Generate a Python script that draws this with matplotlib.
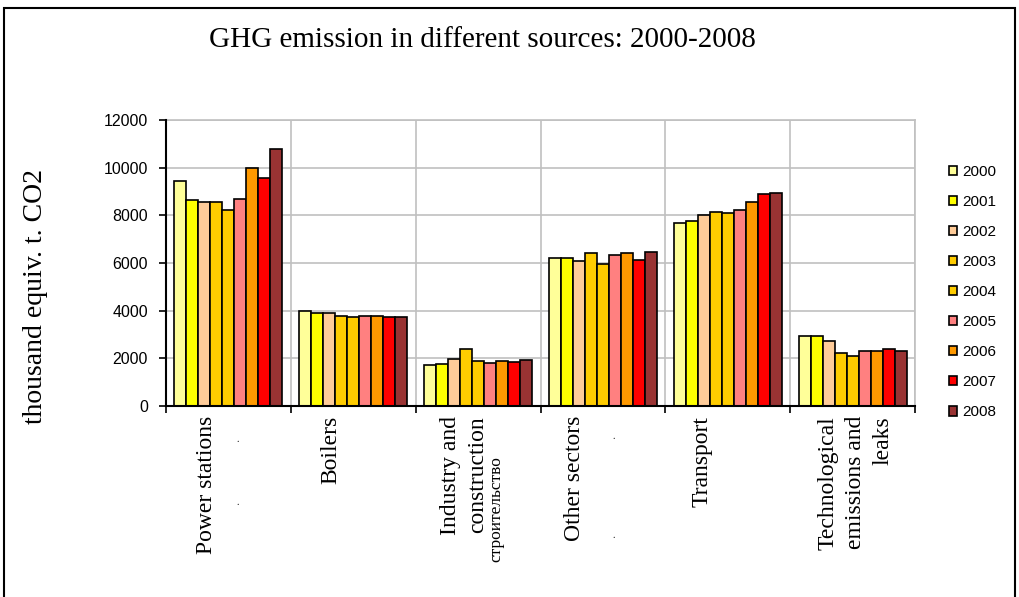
import matplotlib
matplotlib.use('Agg')
import matplotlib.pyplot as plt
from matplotlib.patches import Patch, Rectangle
from matplotlib.transforms import blended_transform_factory, ScaledTranslation
import numpy as np

categories = ["Power stations", "Boilers", "Industry and\nconstruction",
              "Other sectors", "Transport", "Technological\nemissions and\nleaks"]
years = ["2000", "2001", "2002", "2003", "2004", "2005", "2006", "2007", "2008"]
s2000 = [9440, 3990, 1720, 6200, 7690, 2920]
s2001 = [8640, 3920, 1775, 6200, 7750, 2920]
s2002 = [8560, 3920, 1970, 6070, 8030, 2720]
s2003 = [8560, 3780, 2380, 6400, 8140, 2240]
s2004 = [8240, 3720, 1900, 5940, 8090, 2110]
s2005 = [8700, 3780, 1790, 6350, 8230, 2310]
s2006 = [9980, 3780, 1900, 6400, 8560, 2310]
s2007 = [9570, 3720, 1850, 6140, 8900, 2380]
s2008 = [10790, 3720, 1915, 6475, 8950, 2310]
series = [s2000, s2001, s2002, s2003, s2004, s2005, s2006, s2007, s2008]
yticks = [0, 2000, 4000, 6000, 8000, 10000, 12000]

colors = ["#FFFF99", "#FFFF00", "#FFCC99", "#FFCC00", "#FFCC00",
          "#FF8080", "#FF9900", "#FF0000", "#993333"]

W, H = 1019, 597
fig = plt.figure(figsize=(W / 100, H / 100), dpi=100)
fig.patch.set_facecolor("white")
SERIF = ["Liberation Serif", "DejaVu Serif"]
SANS = ["Liberation Sans", "DejaVu Sans"]

ax = fig.add_axes([166 / W, 1 - 406 / H, (915 - 166) / W, (406 - 120) / H])
x = np.arange(len(categories))
bw = 0.096
for j, (vals, c) in enumerate(zip(series, colors)):
    ax.bar(x + (j - 4) * bw, vals, width=bw, color=c, edgecolor="black",
           linewidth=1.2, zorder=3, label=years[j])

ax.set_xlim(-0.5, len(categories) - 0.5)
ax.set_ylim(0, 12000)
ax.set_yticks(yticks)
ax.set_yticklabels([str(t) for t in yticks], fontfamily=SANS, fontsize=11.5)
ax.set_xticks(np.arange(len(categories) + 1) - 0.5)
ax.set_xticklabels([])
ax.tick_params(axis="both", direction="out", length=5, width=1.2, color="black")
ax.tick_params(axis="y", pad=8)
ax.grid(True, color="#c0c0c0", linewidth=1.2, zorder=0)
ax.set_axisbelow(True)
for s in ["left", "bottom"]:
    ax.spines[s].set_color("black")
    ax.spines[s].set_linewidth(1.5)
    ax.spines[s].set_zorder(4)
for s in ["top", "right"]:
    ax.spines[s].set_color("#c0c0c0")
    ax.spines[s].set_linewidth(1.2)

# category labels (last-line baseline offsets in px from category centre)
dx_px = [-16.5, -16.5, -1.0, -22.5, -20.5, 29.5]
base = blended_transform_factory(ax.transData, ax.transAxes)
for i, (lab, dx) in enumerate(zip(categories, dx_px)):
    tr = base + ScaledTranslation(dx / 100, -10 / 100, fig.dpi_scale_trans)
    ax.text(i, 0, lab, transform=tr, rotation=90, rotation_mode="anchor",
            ha="right", va="baseline", multialignment="right",
            fontfamily=SERIF, fontsize=17, linespacing=1.4, clip_on=False)

# small artifacts in original labels
for (px, py) in [(238, 442), (238, 505), (614, 439), (614, 538)]:
    fig.text(px / W, 1 - py / H, ".", fontsize=7, ha="center", va="baseline",
             fontfamily=SERIF)
fig.text(496 / W, 1 - 562 / H, "строительство", rotation=90, rotation_mode="anchor",
         ha="left", va="center", fontsize=12.5, fontfamily=SERIF)

# title and y label
fig.text(482 / W, 1 - 40 / H, "GHG emission in different sources: 2000-2008",
         ha="center", va="center", fontfamily=SERIF, fontsize=21)
fig.text(36 / W, 1 - 296 / H, "thousand equiv. t. CO2", rotation=90,
         ha="center", va="center", fontfamily=SERIF, fontsize=20)

# legend
handles = [Patch(facecolor=c, edgecolor="black", linewidth=1.2) for c in colors]
fig.legend(handles, years, loc="upper left",
           bbox_to_anchor=(949 / W, 1 - 165 / H), frameon=False,
           prop={"family": SANS, "size": 11}, handlelength=0.55, handleheight=0.55,
           handletextpad=0.3, labelspacing=1.05, borderpad=0, borderaxespad=0)

# figure border
fig.patches.append(Rectangle((4 / W, -0.05), (1015 - 4) / W, 1.05 - 8 / H,
                             transform=fig.transFigure, fill=False,
                             edgecolor="black", linewidth=1.5))

fig.savefig("out.png", dpi=100, facecolor="white")
